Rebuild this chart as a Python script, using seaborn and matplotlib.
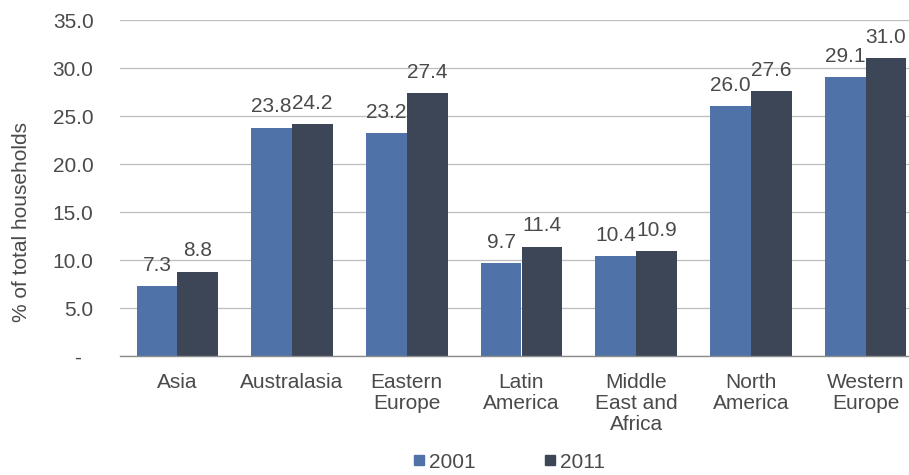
import matplotlib
matplotlib.use("Agg")
import matplotlib.pyplot as plt
from matplotlib.lines import Line2D
from matplotlib.ticker import FuncFormatter, FixedLocator
import pandas as pd
import seaborn as sns

regions = ["Asia", "Australasia", "Eastern\nEurope", "Latin\nAmerica",
           "Middle\nEast and\nAfrica", "North\nAmerica", "Western\nEurope"]
share_2001 = [7.3, 23.8, 23.2, 9.7, 10.4, 26.0, 29.1]
share_2011 = [8.8, 24.2, 27.4, 11.4, 10.9, 27.6, 31.0]
years = ["2001", "2011"]
y_ticks = [0, 5, 10, 15, 20, 25, 30, 35]

df = pd.DataFrame({
    "Region": regions * 2,
    "Share": share_2001 + share_2011,
    "Year": [years[0]] * len(regions) + [years[1]] * len(regions),
})

sns.set_theme(style="white")
plt.rcParams["font.family"] = ["Liberation Sans", "DejaVu Sans"]
text_color = "#4A4A4A"
colors = ["#4F73A8", "#3C4656"]

fig = plt.figure(figsize=(9.09, 4.75), dpi=100)
ax = fig.add_axes([120 / 909, 1 - 356 / 475, 803 / 909, 336 / 475])

sns.barplot(data=df, x="Region", y="Share", hue="Year", palette=colors,
            width=0.71, saturation=1, gap=0, linewidth=0, ax=ax, legend=False)

for container in ax.containers:
    ax.bar_label(container, fmt="%.1f", padding=8, fontsize=15, color=text_color)

ax.set_ylim(0, 35)
ax.set_xlim(-0.5, len(regions) - 0.5)
ax.set_yticks(y_ticks)
ax.yaxis.set_major_formatter(FuncFormatter(lambda v, p: "-  " if v == 0 else f"{v:.1f}"))
ax.grid(axis="y", color="#BDBDBD", linewidth=0.9)
ax.set_axisbelow(True)

for side in ["top", "right", "left"]:
    ax.spines[side].set_visible(False)
ax.spines["bottom"].set_color("#8C8C8C")
ax.spines["bottom"].set_linewidth(1.0)

ax.xaxis.set_minor_locator(FixedLocator([i - 0.5 for i in range(len(regions) + 1)]))
ax.tick_params(axis="x", which="major", length=0, pad=12, labelsize=15, labelcolor=text_color)
ax.tick_params(axis="x", which="minor", length=5, width=1.0, color="#8C8C8C", direction="out")
ax.tick_params(axis="y", length=0, pad=19, labelsize=15, labelcolor=text_color)
for lbl in ax.get_xticklabels():
    lbl.set_linespacing(1.15)

ax.set_xlabel("")
ax.set_ylabel("% of total households", fontsize=15, color=text_color)
ax.yaxis.set_label_coords(-0.111, 0.40)

handles = [Line2D([], [], marker="s", linestyle="", markersize=7, color=c) for c in colors]
fig.legend(handles, years, loc="center", bbox_to_anchor=(508 / 909, 1 - 462 / 475),
           ncol=2, frameon=False, fontsize=15, labelcolor=text_color,
           handletextpad=0.05, columnspacing=3.2, handlelength=0.8)

fig.savefig("out.png", dpi=100)
